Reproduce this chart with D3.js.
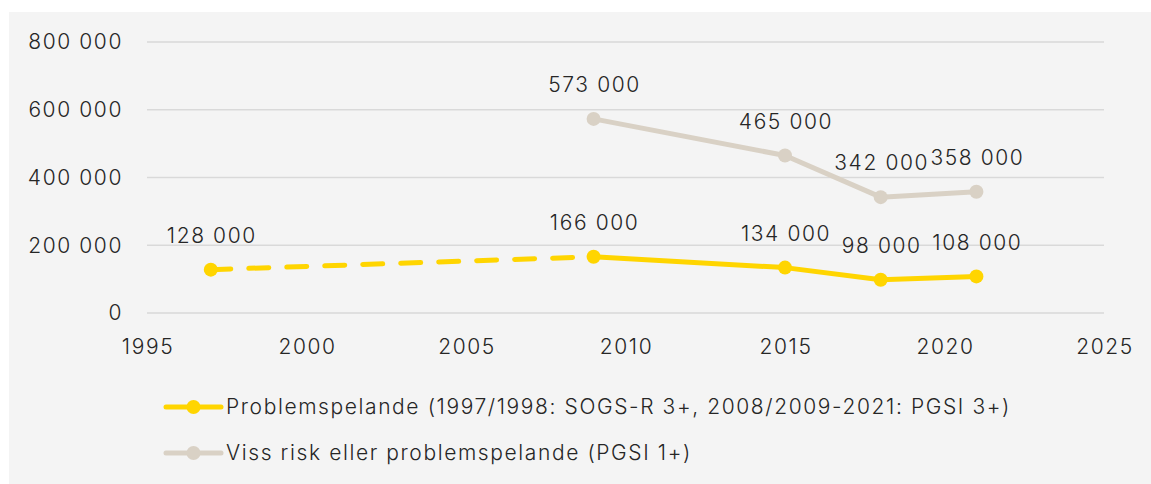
<!DOCTYPE html>
<html>
<head>
<meta charset="utf-8">
<script src="https://cdn.jsdelivr.net/npm/d3@7"></script>
<style>
  body { margin: 0; background: #fff; }
  text { font-family: "Inter", "Open Sans", sans-serif; font-weight: 300; fill: #262626; letter-spacing: 1.6px; }
</style>
</head>
<body>
<div id="chart"></div>
<script>
// Data
const years = [1997, 2009, 2015, 2018, 2021];
const problemValues = [128000, 166000, 134000, 98000, 108000];
const riskYears = [2009, 2015, 2018, 2021];
const riskValues = [573000, 465000, 342000, 358000];
const yTicks = [0, 200000, 400000, 600000, 800000];
const xTicks = [1995, 2000, 2005, 2010, 2015, 2020, 2025];
const legendLabels = [
  "Problemspelande (1997/1998: SOGS-R 3+, 2008/2009-2021: PGSI 3+)",
  "Viss risk eller problemspelande (PGSI 1+)"
];

const W = 1151, H = 484;
const yellow = "#ffd500", beige = "#d9d1c5";
const fmt = v => d3.format(",")(v).replace(/,/g, " ");

const svg = d3.select("#chart").append("svg")
  .attr("width", W).attr("height", H);

// panel background
svg.append("rect")
  .attr("x", 9).attr("y", 12)
  .attr("width", W - 9).attr("height", H - 12)
  .attr("fill", "#f4f4f4");

const x = d3.scaleLinear().domain([1995, 2025]).range([147, 1104]);
const y = d3.scaleLinear().domain([0, 800000]).range([313, 42]);

// gridlines
svg.append("g")
  .selectAll("line")
  .data(yTicks)
  .join("line")
  .attr("x1", x(1995)).attr("x2", x(2025))
  .attr("y1", d => y(d)).attr("y2", d => y(d))
  .attr("stroke", "#d9d9d9").attr("stroke-width", 1.5);

// y tick labels
svg.append("g")
  .selectAll("text")
  .data(yTicks)
  .join("text")
  .attr("x", 123).attr("y", d => y(d))
  .attr("dy", "0.35em")
  .attr("text-anchor", "end")
  .attr("font-size", 21)
  .text(d => fmt(d));

// x tick labels
svg.append("g")
  .selectAll("text")
  .data(xTicks)
  .join("text")
  .attr("x", d => x(d) + 1).attr("y", 347)
  .attr("dy", "0.35em")
  .attr("text-anchor", "middle")
  .attr("font-size", 21)
  .text(d => d);

const problem = years.map((yr, i) => ({ year: yr, value: problemValues[i] }));
const risk = riskYears.map((yr, i) => ({ year: yr, value: riskValues[i] }));

const line = d3.line().x(d => x(d.year)).y(d => y(d.value));

// risk line
svg.append("path")
  .datum(risk)
  .attr("d", line)
  .attr("fill", "none")
  .attr("stroke", beige).attr("stroke-width", 5)
  .attr("stroke-linejoin", "round");

// problem line: dashed first segment, solid rest
svg.append("path")
  .datum(problem.slice(0, 2))
  .attr("d", line)
  .attr("fill", "none")
  .attr("stroke", yellow).attr("stroke-width", 5)
  .attr("stroke-dasharray", "20,18")
  .attr("stroke-linecap", "round");

svg.append("path")
  .datum(problem.slice(1))
  .attr("d", line)
  .attr("fill", "none")
  .attr("stroke", yellow).attr("stroke-width", 5)
  .attr("stroke-linejoin", "round");

// markers
svg.append("g").selectAll("circle")
  .data(risk).join("circle")
  .attr("cx", d => x(d.year)).attr("cy", d => y(d.value))
  .attr("r", 7).attr("fill", beige);

svg.append("g").selectAll("circle")
  .data(problem).join("circle")
  .attr("cx", d => x(d.year)).attr("cy", d => y(d.value))
  .attr("r", 7).attr("fill", yellow);

// data labels
svg.append("g").selectAll("text")
  .data(risk.concat(problem)).join("text")
  .attr("x", d => x(d.year) + 1).attr("y", d => y(d.value) - 34)
  .attr("dy", "0.35em")
  .attr("text-anchor", "middle")
  .attr("font-size", 21)
  .text(d => fmt(d.value));

// legend
const legend = svg.append("g")
  .selectAll("g")
  .data(legendLabels)
  .join("g")
  .attr("transform", (d, i) => `translate(166,${407 + i * 46})`);

legend.append("line")
  .attr("x1", 0).attr("x2", 55)
  .attr("stroke", (d, i) => i === 0 ? yellow : beige)
  .attr("stroke-width", 5).attr("stroke-linecap", "round");

legend.append("circle")
  .attr("cx", 27.5).attr("r", 7)
  .attr("fill", (d, i) => i === 0 ? yellow : beige);

legend.append("text")
  .attr("x", 60).attr("dy", "0.35em")
  .attr("font-size", 21)
  .text(d => d);
</script>
</body>
</html>
